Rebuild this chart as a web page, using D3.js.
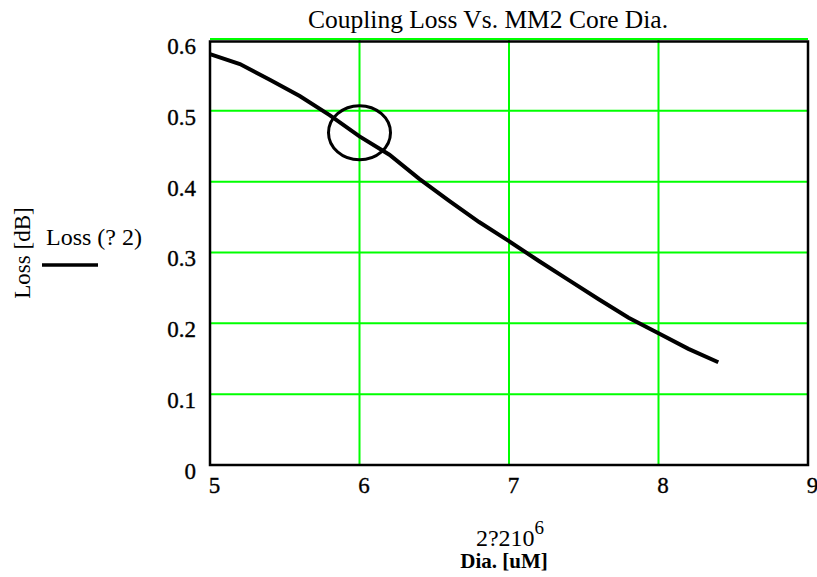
<!DOCTYPE html>
<html>
<head>
<meta charset="utf-8">
<script src="https://cdn.jsdelivr.net/npm/d3@7"></script>
<style>
  body { margin: 0; background: #fff; }
  text { font-family: "Liberation Serif", "Times New Roman", serif; fill: #000; }
</style>
</head>
<body>
<div id="chart"></div>
<script>
// Data
const diameters = [5.0, 5.2, 5.4, 5.6, 5.8, 6.0, 6.2, 6.4, 6.6, 6.8, 7.0, 7.2, 7.4, 7.6, 7.8, 8.0, 8.2, 8.4];
const losses = [0.580, 0.566, 0.544, 0.521, 0.494, 0.464, 0.438, 0.404, 0.373, 0.343, 0.316, 0.288, 0.261, 0.234, 0.208, 0.186, 0.164, 0.145];
const xTicks = [5, 6, 7, 8, 9];
const yTicks = [0, 0.1, 0.2, 0.3, 0.4, 0.5, 0.6];
const marker = { x: 6, y: 0.469 };

const titleText = "Coupling Loss Vs. MM2 Core Dia.";
const legendText = "Loss (? 2)";
const yLabel = "Loss [dB]";
const xLabelTop = "2?210";
const xLabelSup = "6";
const xLabelBottom = "Dia. [uM]";

const dataset = diameters.map((d, i) => ({ dia: d, loss: losses[i] }));
const xAccessor = (d) => d.dia;
const yAccessor = (d) => d.loss;

// Dimensions
const dimensions = {
  width: 817,
  height: 577,
  left: 210,
  right: 808,
  top: 40,
  bottom: 465,
};

const svg = d3
  .select("#chart")
  .append("svg")
  .attr("width", dimensions.width)
  .attr("height", dimensions.height);

// Scales
const xScale = d3.scaleLinear().domain([5, 9]).range([dimensions.left, dimensions.right]);
const yScale = d3.scaleLinear().domain([0, 0.6]).range([dimensions.bottom, dimensions.top]);

// Grid
const grid = svg.append("g").attr("stroke", "#00ff00").attr("stroke-width", 2);
grid
  .selectAll("line.v")
  .data(xTicks.slice(1, -1))
  .join("line")
  .attr("x1", (d) => xScale(d))
  .attr("x2", (d) => xScale(d))
  .attr("y1", dimensions.top)
  .attr("y2", dimensions.bottom);
grid
  .selectAll("line.h")
  .data(yTicks.slice(1))
  .join("line")
  .attr("x1", dimensions.left)
  .attr("x2", dimensions.right)
  .attr("y1", (d) => yScale(d) - (d === 0.6 ? 1 : 0))
  .attr("y2", (d) => yScale(d) - (d === 0.6 ? 1 : 0));

// Frame
svg
  .append("rect")
  .attr("x", dimensions.left)
  .attr("y", dimensions.top + 1.5)
  .attr("width", dimensions.right - dimensions.left)
  .attr("height", dimensions.bottom - dimensions.top - 1.5)
  .attr("fill", "none")
  .attr("stroke", "#000")
  .attr("stroke-width", 2.5);

// Line
const lineGenerator = d3
  .line()
  .x((d) => xScale(xAccessor(d)))
  .y((d) => yScale(yAccessor(d)));

svg
  .append("path")
  .datum(dataset)
  .attr("d", lineGenerator)
  .attr("fill", "none")
  .attr("stroke", "#000")
  .attr("stroke-width", 4);

// Marker
svg
  .append("ellipse")
  .attr("cx", xScale(marker.x))
  .attr("cy", yScale(marker.y))
  .attr("rx", 31)
  .attr("ry", 27)
  .attr("fill", "none")
  .attr("stroke", "#000")
  .attr("stroke-width", 3);

// Tick labels
const styleTicks = (g) => {
  g.attr("font-family", "Liberation Serif").attr("font-size", 23);
  g.selectAll("text")
    .attr("fill", "#000")
    .attr("stroke", "#000")
    .attr("stroke-width", 0.35);
};

const yAxis = d3.axisLeft(yScale).tickValues(yTicks).tickSize(0).tickPadding(14)
  .tickFormat((d) => (d === 0 ? "0" : d3.format(".1f")(d)));
svg
  .append("g")
  .attr("transform", `translate(${dimensions.left},6)`)
  .call(yAxis)
  .call((g) => g.select(".domain").remove())
  .call(styleTicks);

const xAxis = d3.axisBottom(xScale).tickValues(xTicks).tickSize(0).tickPadding(12)
  .tickFormat(d3.format("d"));
svg
  .append("g")
  .attr("transform", `translate(4,${dimensions.bottom})`)
  .call(xAxis)
  .call((g) => g.select(".domain").remove())
  .call(styleTicks);

// Title
svg
  .append("text")
  .attr("x", 488)
  .attr("y", 28)
  .attr("text-anchor", "middle")
  .style("font-size", "25.5px")
  .text(titleText);

// Y label
svg
  .append("text")
  .attr("transform", "translate(30,253) rotate(-90)")
  .attr("text-anchor", "middle")
  .style("font-size", "23px")
  .text(yLabel);

// Legend
svg
  .append("text")
  .attr("x", 46)
  .attr("y", 245)
  .style("font-size", "24px")
  .text(legendText);
svg
  .append("line")
  .attr("x1", 42)
  .attr("x2", 98)
  .attr("y1", 265)
  .attr("y2", 265)
  .attr("stroke", "#000")
  .attr("stroke-width", 3.5);

// X label
const xl = svg
  .append("text")
  .attr("x", 510)
  .attr("y", 546)
  .attr("text-anchor", "middle")
  .style("font-size", "24px");
xl.append("tspan").text(xLabelTop);
xl.append("tspan").attr("dy", -12).style("font-size", "19px").text(xLabelSup);

svg
  .append("text")
  .attr("x", 504)
  .attr("y", 568)
  .attr("text-anchor", "middle")
  .style("font-size", "21px")
  .style("font-weight", "bold")
  .text(xLabelBottom);
</script>
</body>
</html>
